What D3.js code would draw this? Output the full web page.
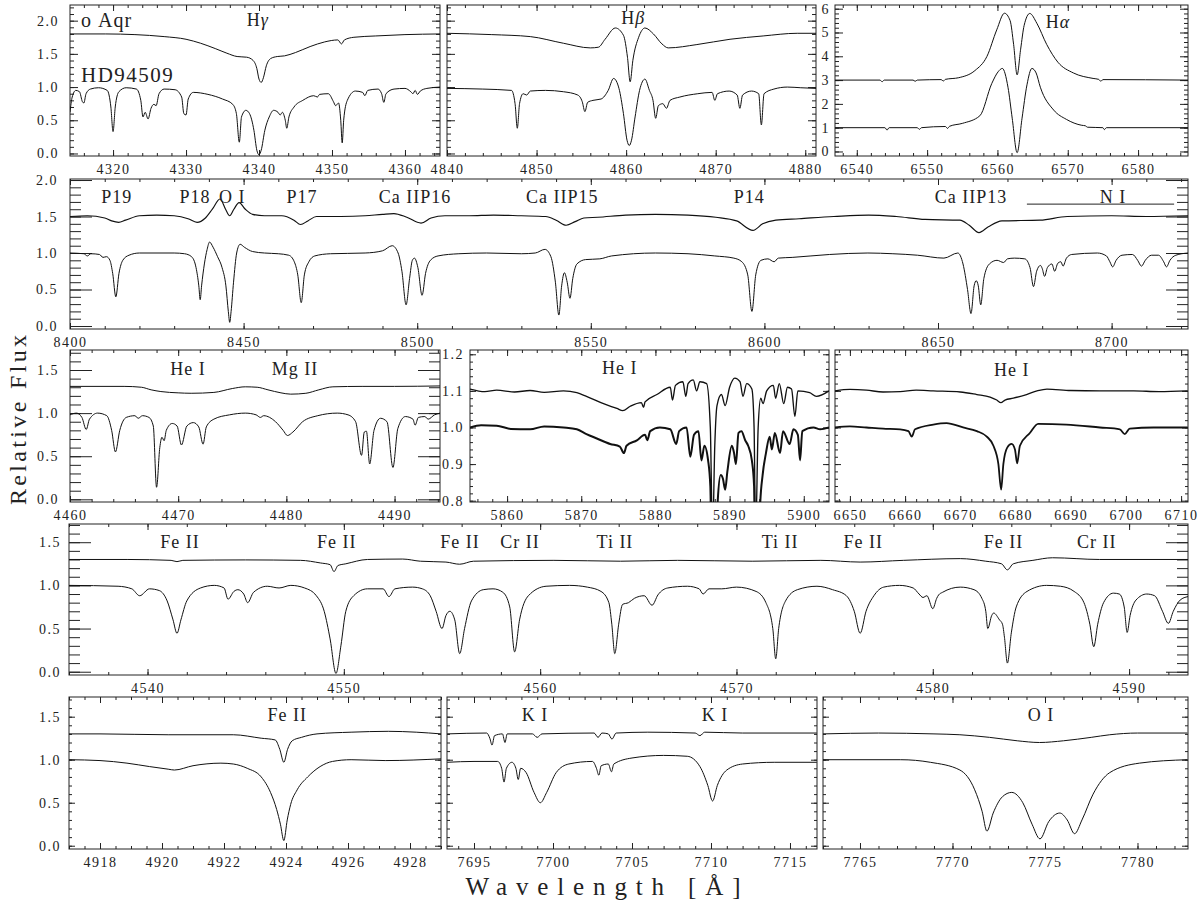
<!DOCTYPE html>
<html>
<head>
<meta charset="utf-8">
<script src="https://cdn.jsdelivr.net/npm/d3@7/dist/d3.min.js"></script>
<style>
  body { margin: 0; background: #fff; }
  text { font-family: "Liberation Serif", "DejaVu Serif", serif; fill: #222; }
</style>
</head>
<body>
<div id="chart"></div>
<script>
// ---- spectra: [wavelength (A), relative flux] ----
// upper trace = o Aqr, lower trace = HD94509

// H gamma
var hgUpper = [[4314.1,1.80],[4319,1.80],[4323,1.79],[4327,1.76],[4330,1.72],[4332,1.66],[4334,1.58],[4335.6,1.51],[4337,1.46],[4338.3,1.45],[4339.2,1.40],[4339.7,1.28],[4340.0,1.12],[4340.3,1.07],[4340.6,1.14],[4341.0,1.32],[4341.6,1.43],[4342.5,1.46],[4343.5,1.47],[4345,1.52],[4347,1.61],[4349,1.68],[4350.8,1.71],[4351.3,1.65],[4351.7,1.71],[4353,1.75],[4356,1.77],[4360,1.79],[4364.8,1.80]];
var hgLower = [[4314.1,0.62],[4314.4,0.85],[4314.9,0.95],[4315.4,0.93],[4315.8,0.78],[4316.0,0.76],[4316.3,0.9],[4316.9,0.97],[4318,0.99],[4319.2,0.95],[4319.7,0.7],[4320.0,0.33],[4320.3,0.7],[4320.8,0.93],[4321.8,0.99],[4323.2,0.97],[4323.8,0.8],[4324.1,0.55],[4324.4,0.62],[4324.8,0.52],[4325.2,0.68],[4325.6,0.74],[4325.9,0.72],[4326.3,0.9],[4327,0.97],[4328.5,0.96],[4329.4,0.85],[4329.7,0.6],[4330.0,0.58],[4330.3,0.82],[4331,0.92],[4333,0.89],[4335,0.82],[4336.4,0.74],[4336.9,0.6],[4337.3,0.17],[4337.6,0.55],[4338.2,0.65],[4338.7,0.6],[4339.3,0.35],[4339.7,0.05],[4340.0,-0.02],[4340.3,0.05],[4340.8,0.35],[4341.4,0.55],[4342.0,0.65],[4342.6,0.62],[4342.9,0.58],[4343.2,0.62],[4343.6,0.5],[4343.8,0.38],[4344.1,0.55],[4344.8,0.7],[4346,0.8],[4347.5,0.87],[4348.0,0.85],[4348.3,0.89],[4349.5,0.9],[4350.2,0.78],[4350.5,0.72],[4350.9,0.76],[4351.2,0.5],[4351.4,0.16],[4351.6,0.5],[4352.1,0.8],[4353.2,0.94],[4354.2,0.92],[4354.5,0.87],[4354.9,0.95],[4356.3,0.97],[4356.8,0.9],[4357.1,0.77],[4357.4,0.9],[4358.5,0.97],[4360,0.98],[4360.8,0.93],[4361.1,0.9],[4361.4,0.95],[4361.7,0.89],[4362.1,0.94],[4363,0.98],[4364.8,1.0]];

// H beta
var hbUpper = [[4840,1.81],[4845,1.79],[4849.3,1.76],[4853.0,1.66],[4856.0,1.59],[4856.9,1.60],[4857.65,1.72],[4858.8,1.89],[4859.7,1.78],[4860.15,1.45],[4860.45,1.08],[4860.75,1.40],[4861.4,1.75],[4862.1,1.89],[4863.05,1.80],[4864.0,1.65],[4864.7,1.59],[4867.9,1.64],[4871.6,1.72],[4875.3,1.77],[4879.1,1.81],[4881.2,1.81]];
var hbLower = [[4840,0.98],[4844,0.97],[4847.2,0.95],[4847.6,0.75],[4847.85,0.38],[4848.1,0.75],[4848.5,0.9],[4848.9,0.88],[4849.3,0.94],[4851,0.95],[4853,0.93],[4854.6,0.88],[4855.1,0.78],[4855.4,0.63],[4855.7,0.77],[4856.3,0.8],[4857.2,0.82],[4858.0,0.95],[4858.6,1.13],[4859.2,0.98],[4859.7,0.6],[4860.1,0.2],[4860.35,0.12],[4860.6,0.2],[4861.0,0.55],[4861.5,0.95],[4862.1,1.12],[4862.6,0.95],[4863.0,0.8],[4863.3,0.53],[4863.6,0.72],[4864.1,0.75],[4864.5,0.68],[4864.9,0.8],[4866,0.85],[4868,0.9],[4869.6,0.92],[4869.9,0.8],[4870.2,0.9],[4871.5,0.94],[4872.4,0.88],[4872.7,0.68],[4873.0,0.88],[4874,0.94],[4874.8,0.9],[4875.1,0.43],[4875.4,0.9],[4876.5,0.97],[4878,1.0],[4879.5,0.99],[4881.2,0.98]];

// H alpha
var haUpper = [[6536.9,3.0],[6543.3,3.0],[6543.6,2.93],[6543.9,3.0],[6548.0,3.0],[6548.3,2.95],[6548.6,3.0],[6552.0,3.02],[6552.3,2.96],[6552.6,3.03],[6554.5,3.1],[6556.8,3.4],[6558.5,3.99],[6559.9,5.11],[6561.0,5.81],[6561.8,5.5],[6562.3,4.5],[6562.8,3.22],[6563.3,4.3],[6563.8,5.3],[6564.6,5.8],[6565.6,5.39],[6567.0,4.5],[6568.6,3.75],[6570.8,3.3],[6573.6,3.07],[6574.4,3.03],[6574.7,2.95],[6575.0,3.02],[6587.1,3.0]];
var haLower = [[6536.9,1.0],[6544.0,1.0],[6544.3,0.9],[6544.6,1.0],[6548.6,1.0],[6548.9,0.93],[6549.2,1.0],[6552.6,1.05],[6552.9,0.97],[6553.2,1.06],[6555,1.18],[6557.5,1.5],[6559.2,2.86],[6560.1,3.35],[6560.7,3.49],[6561.5,2.7],[6562.1,1.4],[6562.8,-0.05],[6563.5,1.4],[6564.2,2.8],[6564.9,3.49],[6565.5,3.3],[6566.1,2.7],[6568.0,1.74],[6569.8,1.35],[6572,1.1],[6572.5,1.08],[6572.8,1.02],[6575,1.0],[6575.2,0.92],[6575.5,1.0],[6587.1,1.0]];

// Paschen / Ca II triplet
var paUpper = [[8400,1.50],[8405,1.51],[8410,1.48],[8412,1.44],[8414,1.42],[8416,1.45],[8420,1.51],[8425,1.52],[8430,1.51],[8434,1.47],[8436.6,1.42],[8439,1.48],[8441,1.6],[8443.2,1.74],[8444.8,1.6],[8446.0,1.51],[8447.2,1.6],[8448.7,1.69],[8450.5,1.6],[8452.6,1.53],[8456,1.51],[8461,1.51],[8464.5,1.45],[8466.4,1.39],[8468.5,1.44],[8471,1.5],[8478,1.5],[8485,1.51],[8490,1.53],[8493.3,1.54],[8497,1.49],[8501.1,1.41],[8504,1.48],[8508,1.51],[8515,1.51],[8522,1.52],[8530,1.51],[8537,1.5],[8540,1.45],[8542.9,1.38],[8545.5,1.43],[8548,1.48],[8552,1.49],[8560,1.52],[8568.6,1.53],[8578,1.52],[8586,1.49],[8592,1.44],[8596.7,1.31],[8599.5,1.4],[8603.3,1.45],[8610,1.47],[8620,1.5],[8630,1.52],[8638,1.5],[8646.3,1.46],[8656.3,1.45],[8659,1.38],[8661.8,1.28],[8664.5,1.36],[8668.4,1.44],[8679.4,1.45],[8687.2,1.5],[8700,1.51],[8710,1.5],[8722,1.51]];
var paLower = [[8400,1.0],[8404,0.99],[8405,0.96],[8406,0.99],[8408.5,0.98],[8409.5,0.94],[8410.5,0.95],[8411.5,0.9],[8412.3,0.72],[8413.2,0.4],[8414.1,0.72],[8415.2,0.9],[8417,0.97],[8420,1.0],[8430,1.0],[8433,0.99],[8435,0.95],[8436.3,0.8],[8437.1,0.55],[8437.5,0.36],[8437.9,0.55],[8438.7,0.85],[8439.5,1.05],[8440.2,1.15],[8441.2,1.08],[8442.5,0.95],[8443.8,0.8],[8444.9,0.55],[8445.6,0.2],[8446.0,0.05],[8446.4,0.2],[8447.1,0.6],[8448.0,1.0],[8449.0,1.12],[8450.2,1.08],[8452.6,1.02],[8456,1.0],[8460,0.99],[8463,0.97],[8464.6,0.88],[8465.6,0.7],[8466.6,0.32],[8467.5,0.7],[8468.8,0.88],[8470.5,0.96],[8475,0.99],[8485,1.0],[8490,1.03],[8492.8,1.1],[8494.5,1.0],[8495.6,0.75],[8496.8,0.29],[8497.8,0.65],[8498.6,0.9],[8499.2,0.93],[8500.2,0.8],[8501.4,0.42],[8502.4,0.72],[8503.8,0.9],[8506,0.96],[8512,0.99],[8520,1.0],[8530,0.99],[8534,1.0],[8536.8,1.05],[8538.5,0.95],[8539.8,0.6],[8540.8,0.15],[8541.6,0.55],[8542.4,0.73],[8543.2,0.6],[8544.0,0.38],[8544.8,0.65],[8546.0,0.85],[8548.5,0.91],[8552.6,0.92],[8556,0.96],[8568.6,1.0],[8578,0.99],[8585.7,0.96],[8591.2,0.93],[8593.5,0.88],[8595.2,0.7],[8596.4,0.2],[8597.5,0.7],[8599,0.9],[8601,0.92],[8602.8,0.88],[8604,0.93],[8608,0.94],[8618.8,0.98],[8629.8,1.0],[8637,0.99],[8644.1,0.97],[8651.7,0.93],[8655.7,1.0],[8657.2,0.85],[8658.5,0.5],[8659.5,0.17],[8660.4,0.55],[8661.0,0.62],[8661.6,0.55],[8662.3,0.29],[8663.2,0.65],[8664.8,0.85],[8667,0.9],[8668.9,0.87],[8670,0.92],[8672,0.93],[8675,0.92],[8676.5,0.8],[8677.5,0.54],[8678.4,0.75],[8679.5,0.83],[8680.0,0.79],[8680.7,0.68],[8681.5,0.8],[8682.8,0.85],[8683.6,0.75],[8684.5,0.86],[8685.4,0.88],[8686,0.82],[8687,0.93],[8688.5,0.98],[8695.9,1.0],[8698.5,0.96],[8699.5,0.88],[8700.3,0.81],[8701.3,0.9],[8703,0.97],[8706,0.98],[8707.5,0.9],[8708.6,0.82],[8709.7,0.9],[8711.5,0.97],[8713.5,0.97],[8715,0.88],[8715.8,0.81],[8716.8,0.9],[8718.5,0.97],[8722,1.0]];

// He I 4471 / Mg II 4481
var heaUpper = [[4460,1.31],[4465,1.31],[4466.6,1.30],[4467.5,1.27],[4468.4,1.25],[4470,1.235],[4471.2,1.23],[4473.3,1.24],[4475,1.285],[4476.2,1.305],[4477.3,1.30],[4478.3,1.27],[4479.5,1.235],[4480.4,1.22],[4481.8,1.23],[4483,1.27],[4484.3,1.305],[4487,1.31],[4490,1.31],[4494.2,1.315]];
var heaLower = [[4460,0.98],[4460.6,1.0],[4461.1,0.95],[4461.5,0.81],[4461.8,0.93],[4462.55,1.0],[4463.4,0.97],[4463.85,0.8],[4464.2,0.55],[4464.6,0.8],[4465.2,0.95],[4466.0,0.97],[4466.3,0.94],[4466.7,0.97],[4467.3,0.95],[4467.7,0.85],[4468.0,0.14],[4468.3,0.6],[4468.5,0.72],[4468.7,0.68],[4468.9,0.8],[4469.45,0.88],[4469.9,0.85],[4470.3,0.63],[4470.8,0.85],[4471.4,0.89],[4471.9,0.84],[4472.3,0.64],[4472.6,0.84],[4473.3,0.93],[4474.75,0.98],[4476.2,1.0],[4477.2,0.98],[4477.6,0.95],[4477.9,0.97],[4479.0,0.9],[4479.7,0.8],[4480.1,0.74],[4480.6,0.78],[4481.5,0.9],[4482.9,0.97],[4484.7,1.0],[4485.7,0.98],[4486.4,0.9],[4486.95,0.51],[4487.2,0.78],[4487.4,0.79],[4487.7,0.41],[4488.1,0.8],[4488.7,0.94],[4489.3,0.9],[4489.85,0.37],[4490.3,0.82],[4491.0,0.96],[4491.7,0.93],[4491.9,0.86],[4492.2,0.95],[4492.8,0.96],[4493.1,0.93],[4493.7,0.98],[4494.2,1.0]];

// He I 5876 / Na D
var naUpper = [[5855,1.105],[5857,1.098],[5858.6,1.102],[5861,1.097],[5863.1,1.101],[5865,1.096],[5867.6,1.1],[5869.4,1.095],[5870.7,1.085],[5873.0,1.065],[5874.8,1.052],[5875.6,1.046],[5876.6,1.058],[5878.1,1.068],[5878.4,1.055],[5878.6,1.07],[5880.2,1.09],[5882.0,1.11],[5882.3,1.075],[5882.7,1.115],[5883.7,1.125],[5884.1,1.085],[5884.4,1.12],[5885.1,1.13],[5885.55,1.1],[5886.0,1.125],[5886.9,1.12],[5887.4,1.0],[5887.7,0.7],[5888.0,0.95],[5888.3,1.06],[5888.9,1.09],[5889.4,1.06],[5890.0,1.11],[5890.7,1.135],[5891.4,1.125],[5891.8,1.085],[5892.3,1.12],[5893.0,1.105],[5893.3,1.0],[5893.5,0.7],[5893.85,1.0],[5894.2,1.08],[5894.5,1.065],[5895.0,1.1],[5895.9,1.115],[5896.2,1.08],[5896.7,1.12],[5897.3,1.065],[5897.8,1.11],[5898.35,1.105],[5898.8,1.03],[5899.2,1.1],[5900.8,1.095],[5901.7,1.085],[5903.4,1.1]];
var naLower = [[5855,1.0],[5856.5,1.006],[5858.6,1.005],[5860.5,0.996],[5863.1,0.995],[5865,1.003],[5867.6,1.0],[5869.4,0.995],[5870.7,0.982],[5872.1,0.97],[5873.9,0.955],[5875.2,0.948],[5875.75,0.93],[5876.1,0.95],[5877.5,0.965],[5878.6,0.98],[5878.9,0.965],[5879.3,0.99],[5880.6,1.0],[5882.0,0.995],[5882.8,0.955],[5883.2,0.99],[5884.2,1.0],[5884.7,0.92],[5885.2,0.98],[5885.8,0.99],[5886.2,0.91],[5886.6,0.95],[5887.1,0.91],[5887.4,0.84],[5887.7,0.5],[5887.9,0.6],[5888.15,0.5],[5888.4,0.8],[5888.8,0.87],[5889.1,0.86],[5889.4,0.83],[5889.7,0.88],[5890.3,0.95],[5890.6,0.93],[5890.85,0.9],[5891.2,0.985],[5891.6,0.99],[5892.1,0.965],[5892.5,0.95],[5893.0,0.91],[5893.3,0.84],[5893.5,0.5],[5893.85,0.6],[5894.1,0.78],[5894.45,0.87],[5894.9,0.93],[5895.4,0.975],[5895.7,0.94],[5896.1,0.985],[5896.8,0.93],[5897.2,0.99],[5898.1,0.955],[5898.6,0.995],[5899.2,0.98],[5899.5,0.91],[5899.8,0.99],[5901.3,1.0],[5902.2,0.995],[5903.4,1.0]];

// He I 6678
var hebUpper = [[6647.3,1.10],[6650,1.104],[6653.0,1.102],[6656,1.097],[6659.1,1.098],[6662,1.102],[6665.1,1.1],[6670.0,1.097],[6673.0,1.09],[6675.4,1.083],[6676.6,1.075],[6677.35,1.068],[6678.1,1.075],[6679.6,1.08],[6682.0,1.09],[6683.9,1.1],[6685.7,1.105],[6690,1.101],[6695.3,1.1],[6701.4,1.1],[6706,1.098],[6711.2,1.1]];
var hebLower = [[6647.3,1.0],[6650,1.003],[6653.0,1.0],[6656,0.997],[6659.1,0.995],[6660.6,0.99],[6661.2,0.975],[6661.8,0.995],[6665.1,1.008],[6667.5,1.012],[6670.5,1.0],[6673.0,0.99],[6674.8,0.975],[6676.0,0.95],[6676.9,0.9],[6677.4,0.83],[6677.8,0.9],[6678.5,0.945],[6679.3,0.955],[6679.9,0.94],[6680.3,0.902],[6680.8,0.95],[6682.6,0.985],[6684.1,1.01],[6689.2,1.008],[6695.3,1.0],[6698.9,0.995],[6699.8,0.982],[6700.7,0.997],[6705,1.0],[6711.2,1.0]];

// Fe II 4540-4590
var feUpper = [[4536,1.30],[4539,1.30],[4541.2,1.29],[4541.5,1.275],[4541.8,1.29],[4545,1.295],[4547.8,1.29],[4548.8,1.26],[4549.3,1.24],[4549.5,1.16],[4549.7,1.23],[4550.1,1.25],[4551.2,1.30],[4553,1.305],[4553.9,1.28],[4555.2,1.27],[4555.9,1.245],[4556.6,1.28],[4560.7,1.29],[4564.1,1.28],[4567,1.29],[4570.8,1.28],[4574.3,1.29],[4576.3,1.27],[4578.5,1.29],[4581.4,1.31],[4582.7,1.28],[4583.5,1.25],[4583.8,1.18],[4584.1,1.25],[4585.1,1.29],[4586.1,1.32],[4588.5,1.30],[4593,1.30]];
var feLower = [[4536,1.0],[4538.5,0.99],[4539.2,0.96],[4539.6,0.88],[4540.1,0.96],[4540.6,0.94],[4541.0,0.82],[4541.3,0.6],[4541.5,0.445],[4541.7,0.6],[4542.0,0.82],[4542.7,0.97],[4543.4,1.0],[4543.9,0.97],[4544.1,0.84],[4544.4,0.93],[4544.6,0.95],[4544.9,0.9],[4545.1,0.80],[4545.4,0.92],[4546.1,0.99],[4546.7,0.97],[4547.3,1.0],[4548.0,0.97],[4548.6,0.88],[4549.0,0.7],[4549.3,0.38],[4549.6,-0.02],[4549.85,0.3],[4550.1,0.7],[4550.5,0.88],[4551.2,0.96],[4552.0,0.96],[4552.3,0.87],[4552.6,0.96],[4553.5,0.98],[4554.0,0.96],[4554.4,0.88],[4554.7,0.7],[4555.0,0.50],[4555.2,0.65],[4555.4,0.70],[4555.65,0.6],[4555.9,0.21],[4556.15,0.5],[4556.5,0.82],[4557.1,0.95],[4557.6,0.96],[4558.1,0.92],[4558.45,0.75],[4558.7,0.23],[4558.95,0.6],[4559.4,0.88],[4560.3,0.99],[4561.5,1.0],[4562.4,0.98],[4563.1,0.93],[4563.5,0.8],[4563.65,0.55],[4563.8,0.21],[4564.0,0.55],[4564.2,0.78],[4564.5,0.8],[4564.8,0.85],[4565.3,0.88],[4565.7,0.77],[4566.0,0.89],[4566.5,0.97],[4567.5,0.99],[4568.1,0.96],[4568.3,0.9],[4568.6,0.96],[4569.25,0.96],[4570,0.98],[4571.0,0.93],[4571.5,0.8],[4571.85,0.5],[4572.0,0.15],[4572.15,0.5],[4572.5,0.82],[4573.1,0.95],[4574.1,0.99],[4574.9,0.95],[4575.6,0.88],[4576.0,0.7],[4576.3,0.445],[4576.6,0.7],[4577.0,0.88],[4577.5,0.98],[4578.3,1.0],[4579.0,0.97],[4579.3,0.9],[4579.5,0.86],[4579.7,0.88],[4580.0,0.73],[4580.2,0.85],[4580.3,0.89],[4580.5,0.92],[4581.4,0.98],[4582.1,0.95],[4582.5,0.85],[4582.7,0.7],[4582.8,0.50],[4583.0,0.65],[4583.1,0.68],[4583.4,0.6],[4583.55,0.55],[4583.65,0.4],[4583.8,0.10],[4584.0,0.45],[4584.25,0.75],[4584.8,0.93],[4585.8,1.0],[4586.5,0.99],[4587.2,0.93],[4587.7,0.8],[4588.0,0.55],[4588.2,0.29],[4588.4,0.55],[4588.7,0.8],[4589.2,0.91],[4589.5,0.9],[4589.75,0.75],[4589.9,0.455],[4590.05,0.65],[4590.35,0.83],[4590.9,0.9],[4591.3,0.88],[4591.7,0.7],[4592.0,0.56],[4592.25,0.7],[4592.6,0.83],[4593,0.87]];

// Fe II 4924
var fe49Upper = [[4917,1.30],[4918,1.30],[4920.2,1.29],[4922.3,1.29],[4923.2,1.25],[4923.65,1.23],[4923.8,1.12],[4923.93,0.97],[4924.05,1.12],[4924.2,1.22],[4924.5,1.26],[4925.0,1.30],[4926.1,1.32],[4927.3,1.33],[4928.2,1.32],[4929,1.30]];
var fe49Lower = [[4917,1.0],[4918,0.99],[4918.87,0.96],[4919.6,0.92],[4920.2,0.89],[4920.4,0.88],[4921.0,0.93],[4921.9,0.96],[4922.3,0.95],[4922.75,0.9],[4923.2,0.8],[4923.5,0.62],[4923.7,0.42],[4923.82,0.25],[4923.93,0.06],[4924.04,0.3],[4924.15,0.48],[4924.36,0.65],[4924.7,0.8],[4925.1,0.92],[4925.5,0.98],[4926.1,1.0],[4927.2,0.99],[4929,1.01]];

// K I 7699
var kiUpper = [[7693.3,1.30],[7695.8,1.31],[7696.0,1.25],[7696.14,1.17],[7696.3,1.28],[7696.8,1.30],[7696.96,1.20],[7697.1,1.30],[7698.7,1.30],[7699.0,1.26],[7699.3,1.30],[7702.6,1.31],[7702.85,1.26],[7703.1,1.31],[7703.5,1.30],[7703.73,1.24],[7704.0,1.31],[7706,1.32],[7709.0,1.31],[7709.3,1.28],[7709.6,1.32],[7712,1.31],[7716.7,1.31]];
var kiLower = [[7693.3,0.97],[7695,0.98],[7696.5,0.98],[7696.75,0.9],[7696.9,0.74],[7697.05,0.9],[7697.4,0.97],[7697.65,0.9],[7697.8,0.77],[7697.95,0.9],[7698.3,0.85],[7698.8,0.62],[7699.2,0.5],[7699.6,0.62],[7700.2,0.85],[7701,0.95],[7702.5,0.98],[7702.75,0.9],[7702.9,0.82],[7703.05,0.93],[7703.5,0.95],[7703.7,0.86],[7703.85,0.95],[7705,1.02],[7707,1.05],[7708.5,1.04],[7709.3,0.92],[7709.8,0.7],[7710.1,0.52],[7710.4,0.7],[7711,0.88],[7712,0.95],[7714,0.97],[7716.7,0.97]];

// O I 7774 triplet
var oiUpper = [[7763,1.30],[7766,1.31],[7769,1.30],[7770.4,1.29],[7772,1.26],[7773.5,1.22],[7774.7,1.20],[7776,1.22],[7777.5,1.26],[7778.5,1.29],[7780,1.31],[7782.7,1.31]];
var oiLower = [[7763,1.0],[7767.2,1.0],[7768.8,0.97],[7770.4,0.88],[7771.2,0.65],[7771.6,0.4],[7771.86,0.17],[7772.2,0.38],[7772.7,0.57],[7773.2,0.62],[7773.8,0.5],[7774.3,0.25],[7774.73,0.08],[7775.2,0.28],[7775.8,0.38],[7776.2,0.3],[7776.6,0.14],[7777.0,0.3],[7777.6,0.6],[7778.5,0.85],[7780.1,0.96],[7782.7,1.0]];

// ---- tick labels ----
var hgTicks = [4320, 4330, 4340, 4350, 4360];
var hbTicks = [4840, 4850, 4860, 4870, 4880];
var haTicks = [6540, 6550, 6560, 6570, 6580];
var paTicks = [8400, 8450, 8500, 8550, 8600, 8650, 8700];
var heaTicks = [4460, 4470, 4480, 4490];
var naTicks = [5860, 5870, 5880, 5890, 5900];
var hebTicks = [6650, 6660, 6670, 6680, 6690, 6700, 6710];
var feTicks = [4540, 4550, 4560, 4570, 4580, 4590];
var fe49Ticks = [4918, 4920, 4922, 4924, 4926, 4928];
var kiTicks = [7695, 7700, 7705, 7710, 7715];
var oiTicks = [7765, 7770, 7775, 7780];
var fluxTicks = [0, 0.5, 1.0, 1.5, 2.0];
var fluxTicksLow = [0, 0.5, 1.0, 1.5];
var haFluxTicks = [0, 1, 2, 3, 4, 5, 6];
var narrowTicks = [0.8, 0.9, 1.0, 1.1, 1.2];

// ---- panel layout: box = [left, right, top, bottom] ----
var panels = [
  { box: [70, 440, 5, 156], x: [4314.1, 4364.8], y: [-0.038, 2.236], xt: hgTicks, xm: 2, yt: fluxTicks, ym: 0.1,
    yl: true, fmt: ".1f", pad: 11, tl: [6, 3, 8, 4], up: hgUpper, lo: hgLower,
    labels: [{ t: "H", g: "γ", w: 4339.85, f: 2.01 }] },
  { box: [447, 816, 5, 156], x: [4840, 4881.2], y: [-0.038, 2.236], xt: hbTicks, xm: 2, yt: fluxTicks, ym: 0.1,
    yl: false, tl: [6, 3, 8, 4], up: hbUpper, lo: hbLower,
    labels: [{ t: "H", g: "β", w: 4860.8, f: 2.04 }] },
  { box: [835, 1188, 5, 156], x: [6536.9, 6587.1], y: [-0.19, 6.155], xt: haTicks, xm: 2, yt: haFluxTicks, ym: 0.2,
    yl: true, fmt: "d", pad: 5, tl: [6, 3, 8, 4], up: haUpper, lo: haLower,
    labels: [{ t: "H", g: "α", w: 6568.6, f: 5.44 }] },
  { box: [70, 1188, 179, 329], x: [8400, 8722], y: [-0.041, 2.014], xt: paTicks, xm: 10, yt: fluxTicks, ym: 0.1,
    yl: true, fmt: ".1f", pad: 12, tl: [6, 3, 22, 11], up: paUpper, lo: paLower, upW: 1.15,
    labels: [{ t: "P19", w: 8413.5, f: 1.767 }, { t: "P18", w: 8436.0, f: 1.767 }, { t: "O I", w: 8446.7, f: 1.767 },
             { t: "P17", w: 8466.8, f: 1.767 }, { t: "Ca IIP16", w: 8499.4, f: 1.767 }, { t: "Ca IIP15", w: 8541.8, f: 1.767 },
             { t: "P14", w: 8595.6, f: 1.767 }, { t: "Ca IIP13", w: 8659.5, f: 1.767 }, { t: "N I", w: 8700.4, f: 1.767 }],
    bar: [8675.6, 8718.0, 1.67] },
  { box: [70, 440, 350, 502], x: [4460, 4494.2], y: [-0.031, 1.732], xt: heaTicks, xm: 2, yt: fluxTicksLow, ym: 0.1,
    yl: true, fmt: ".1f", pad: 11, tl: [6, 3, 22, 11], up: heaUpper, lo: heaLower,
    labels: [{ t: "He I", w: 4470.9, f: 1.51 }, { t: "Mg II", w: 4480.8, f: 1.51 }] },
  { box: [470, 829, 350, 502], x: [5855, 5903.4], y: [0.7964, 1.2117], xt: naTicks, xm: 2, yt: narrowTicks, ym: 0.02,
    yl: true, fmt: ".1f", pad: 6, tl: [6, 3, 6, 3], up: naUpper, lo: naLower, upW: 1.35, loW: 2.0,
    labels: [{ t: "He I", w: 5875.2, f: 1.163 }] },
  { box: [835, 1188, 350, 502], x: [6647.3, 6711.25], y: [0.7964, 1.2117], xt: hebTicks, xm: 2, yt: narrowTicks, ym: 0.02,
    yl: false, tl: [6, 3, 6, 3], up: hebUpper, lo: hebLower, upW: 1.3, loW: 1.8,
    labels: [{ t: "He I", w: 6679.3, f: 1.157 }] },
  { box: [69, 1188, 524, 675], x: [4536, 4593], y: [-0.038, 1.711], xt: feTicks, xm: 2, yt: fluxTicksLow, ym: 0.1,
    yl: true, fmt: ".1f", pad: 8, tl: [6, 3, 22, 11], up: feUpper, lo: feLower,
    labels: [{ t: "Fe II", w: 4541.65, f: 1.506 }, { t: "Fe II", w: 4549.64, f: 1.506 }, { t: "Fe II", w: 4555.92, f: 1.506 },
             { t: "Cr II", w: 4558.97, f: 1.506 }, { t: "Ti II", w: 4563.81, f: 1.506 }, { t: "Ti II", w: 4572.22, f: 1.506 },
             { t: "Fe II", w: 4576.46, f: 1.506 }, { t: "Fe II", w: 4583.6, f: 1.506 }, { t: "Cr II", w: 4588.35, f: 1.506 }] },
  { box: [69, 441, 697, 849], x: [4917, 4929], y: [-0.038, 1.729], xt: fe49Ticks, xm: 0.5, yt: fluxTicksLow, ym: 0.1,
    yl: true, fmt: ".1f", pad: 8, tl: [6, 3, 6, 3], up: fe49Upper, lo: fe49Lower,
    labels: [{ t: "Fe II", w: 4924.04, f: 1.52 }] },
  { box: [447, 817, 697, 849], x: [7693.29, 7716.71], y: [-0.038, 1.729], xt: kiTicks, xm: 1, yt: fluxTicksLow, ym: 0.1,
    yl: false, tl: [6, 3, 6, 3], up: kiUpper, lo: kiLower,
    labels: [{ t: "K I", w: 7698.86, f: 1.52 }, { t: "K I", w: 7710.25, f: 1.52 }] },
  { box: [823, 1188, 697, 849], x: [7763, 7782.73], y: [-0.038, 1.729], xt: oiTicks, xm: 1, yt: fluxTicksLow, ym: 0.1,
    yl: false, tl: [6, 3, 6, 3], up: oiUpper, lo: oiLower,
    labels: [{ t: "O I", w: 7774.78, f: 1.52 }] }
];

var svg = d3.select("#chart")
    .append("svg")
    .attr("width", 1200)
    .attr("height", 907)
    .style("background", "#fff");

var tickFont = "Liberation Serif, DejaVu Serif, serif";

function minorValues(domain, step) {
    var a = Math.ceil(domain[0] / step - 1e-6), b = Math.floor(domain[1] / step + 1e-6);
    return d3.range(a, b + 1).map(function (k) { return +(k * step).toFixed(4); });
}

function styleAxis(g) {
    g.select(".domain").remove();
    g.selectAll("line").attr("stroke", "#222").attr("stroke-width", 1);
    g.attr("font-family", tickFont).attr("font-size", 14);
    g.selectAll("text").attr("fill", "#222").style("letter-spacing", "1.5px");
}

panels.forEach(function (p, i) {
    var L = p.box[0], R = p.box[1], T = p.box[2], B = p.box[3];
    var x = d3.scaleLinear().domain(p.x).range([L, R]);
    var y = d3.scaleLinear().domain(p.y).range([B, T]);
    var g = svg.append("g");

    // clip
    svg.append("clipPath").attr("id", "clip" + i)
        .append("rect").attr("x", L).attr("y", T).attr("width", R - L).attr("height", B - T);

    // x axes (bottom labelled, top plain), ticks pointing inward
    var xMinor = minorValues(p.x, p.xm);
    var yMinor = minorValues(p.y, p.ym);

    g.append("g").attr("transform", "translate(0," + B + ")")
        .call(d3.axisBottom(x).tickValues(xMinor).tickSize(-p.tl[1]).tickFormat(""))
        .call(styleAxis);
    g.append("g").attr("transform", "translate(0," + B + ")")
        .call(d3.axisBottom(x).tickValues(p.xt).tickSize(-p.tl[0]).tickPadding(8).tickFormat(d3.format("d")))
        .call(styleAxis);
    g.append("g").attr("transform", "translate(0," + T + ")")
        .call(d3.axisTop(x).tickValues(xMinor).tickSize(-p.tl[1]).tickFormat(""))
        .call(styleAxis);
    g.append("g").attr("transform", "translate(0," + T + ")")
        .call(d3.axisTop(x).tickValues(p.xt).tickSize(-p.tl[0]).tickFormat(""))
        .call(styleAxis);

    // y axes
    g.append("g").attr("transform", "translate(" + L + ",0)")
        .call(d3.axisLeft(y).tickValues(yMinor).tickSize(-p.tl[3]).tickFormat(""))
        .call(styleAxis);
    g.append("g").attr("transform", "translate(" + L + ",0)")
        .call(d3.axisLeft(y).tickValues(p.yt).tickSize(-p.tl[2]).tickPadding(p.pad || 8)
            .tickFormat(p.yl ? d3.format(p.fmt) : ""))
        .call(styleAxis);
    g.append("g").attr("transform", "translate(" + R + ",0)")
        .call(d3.axisRight(y).tickValues(yMinor).tickSize(-p.tl[3]).tickFormat(""))
        .call(styleAxis);
    g.append("g").attr("transform", "translate(" + R + ",0)")
        .call(d3.axisRight(y).tickValues(p.yt).tickSize(-p.tl[2]).tickFormat(""))
        .call(styleAxis);

    // frame
    g.append("rect")
        .attr("x", L).attr("y", T).attr("width", R - L).attr("height", B - T)
        .attr("fill", "none").attr("stroke", "#222").attr("stroke-width", 1);

    // spectra
    var line = d3.line()
        .x(function (d) { return x(d[0]); })
        .y(function (d) { return y(d[1]); })
        .curve(d3.curveMonotoneX);

    var plot = g.append("g").attr("clip-path", "url(#clip" + i + ")");
    [[p.up, p.upW || 1], [p.lo, p.loW || 1]].forEach(function (s) {
        plot.append("path")
            .datum(s[0])
            .attr("d", line)
            .attr("fill", "none")
            .attr("stroke", "#111")
            .attr("stroke-width", s[1])
            .attr("stroke-linejoin", "round");
    });

    // line identifications
    p.labels.forEach(function (l) {
        var t = g.append("text")
            .attr("x", x(l.w))
            .attr("y", y(l.f))
            .attr("text-anchor", "middle")
            .attr("dominant-baseline", "central")
            .style("font-size", "18px")
            .style("letter-spacing", "1px")
            .text(l.t);
        if (l.g) t.append("tspan").style("font-style", "italic").text(l.g);
    });

    if (p.bar) {
        g.append("line")
            .attr("x1", x(p.bar[0])).attr("x2", x(p.bar[1]))
            .attr("y1", y(p.bar[2])).attr("y2", y(p.bar[2]))
            .attr("stroke", "#222").attr("stroke-width", 1);
    }
});

// star names in the first panel
svg.append("text")
    .attr("x", 81).attr("y", 20)
    .attr("dominant-baseline", "central")
    .style("font-size", "20px")
    .style("letter-spacing", "1px")
    .text("ο Aqr");
svg.append("text")
    .attr("x", 81).attr("y", 75)
    .attr("dominant-baseline", "central")
    .style("font-size", "21px")
    .style("letter-spacing", "1.5px")
    .text("HD94509");

// axis titles
svg.append("text")
    .attr("transform", "translate(18,420) rotate(-90)")
    .attr("text-anchor", "middle")
    .attr("dominant-baseline", "central")
    .attr("textLength", 170)
    .attr("lengthAdjust", "spacing")
    .style("font-size", "24px")
    .text("Relative Flux");
svg.append("text")
    .attr("x", 603).attr("y", 886)
    .attr("text-anchor", "middle")
    .attr("dominant-baseline", "central")
    .attr("textLength", 275)
    .attr("lengthAdjust", "spacing")
    .style("font-size", "25px")
    .text("Wavelength [Å]");
</script>
</body>
</html>
